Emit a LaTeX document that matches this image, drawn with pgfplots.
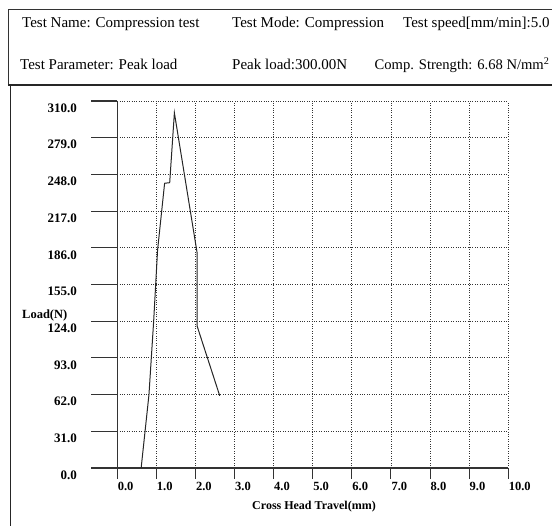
\documentclass[border=0pt]{standalone}
\usepackage{fontspec}
\setmainfont{Liberation Serif}
\usepackage{pgfplots}
\pgfplotsset{compat=1.18}
\begin{document}
\begin{tikzpicture}
\useasboundingbox (-117.3pt,-58pt) rectangle (434.7pt,468pt);
\begin{axis}[
  at={(0,0)}, anchor=south west,
  scale only axis, width=391pt, height=367pt,
  xmin=0, xmax=10, ymin=0, ymax=310,
  axis lines*=left,
  axis line style={line width=1.1pt, black!80},
  xtick={0,1,...,10},
  ytick={0,31,62,93,124,155,186,217,248,279,310},
  tick align=outside,
  major tick length=11pt,
  xtick style={line width=1pt, black!80},
  ytick style={draw=none},
  grid=major,
  major grid style={dotted, line width=0.8pt, black!80},
  /pgf/number format/assume math mode=true,
  /pgf/number format/fixed, /pgf/number format/fixed zerofill,
  /pgf/number format/precision=1,
  /pgf/number format/1000 sep={},
  xticklabel style={anchor=north west, font=\bfseries\fontsize{12.5}{14}\selectfont, xshift=-3pt, yshift=0pt},
  yticklabel style={anchor=east, font=\bfseries\fontsize{13}{15}\selectfont, xshift=-26pt, yshift=-7pt},
]
\addplot[black!85, line width=1pt] coordinates {
(0.61,0) (0.81,62) (0.93,124) (1.03,184) (1.21,240.5) (1.34,241) (1.46,300) (2.04,182) (2.04,120) (2.62,61)
};
\end{axis}
% y tick marks (long, outside)
\foreach \v in {0,...,10} \draw[line width=1.1pt, black!80] (0,\v*36.7pt) -- ++(-26pt,0);
% frames
\draw[line width=0.8pt, black!80] (434.7pt,459pt) -- (-109.3pt,459pt) -- (-109.3pt,383pt);
\draw[line width=2pt, black!85] (-109.3pt,383pt) -- (434.7pt,383pt);
\draw[line width=1.6pt, black!85] (-106.8pt,383pt) -- (-106.8pt,-58pt);
% header texts
\begin{scope}[every node/.style={anchor=base west, inner sep=0pt, font=\fontsize{15}{17}\selectfont}]
\node at (-95.3pt,440pt) {Test Name: Compression test};
\node at (114.7pt,440pt) {Test Mode: Compression};
\node at (285.7pt,440pt) {Test speed[mm/min]:5.0};
\node at (-97.3pt,398pt) {Test Parameter: Peak load};
\node at (114.7pt,398pt) {Peak load:300.00N};
\node[font=\fontsize{14.6}{17}\selectfont] at (257.2pt,398pt) {Comp. Strength: 6.68 N/mm\textsuperscript{2}};
\end{scope}
\node[anchor=west, inner sep=0pt, font=\bfseries\fontsize{12.5}{14}\selectfont] at (-95.3pt,152pt) {Load(N)};
\node[inner sep=0pt, font=\bfseries\fontsize{12}{14}\selectfont] at (196.7pt,-39pt) {Cross Head Travel(mm)};
\end{tikzpicture}
\end{document}
